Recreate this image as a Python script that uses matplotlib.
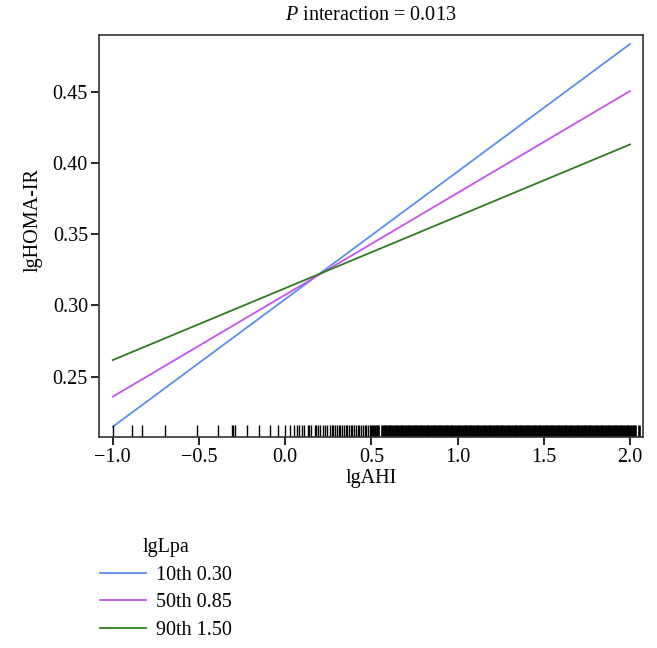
import matplotlib
matplotlib.use("Agg")
import matplotlib.pyplot as plt
import matplotlib.transforms as mtransforms

plt.rcParams['font.family'] = ['Liberation Serif', 'DejaVu Serif']
plt.rcParams['mathtext.fontset'] = 'custom'
plt.rcParams['mathtext.it'] = 'Liberation Serif:italic'
plt.rcParams['mathtext.rm'] = 'Liberation Serif'

# Data
x_ends = [-1.0, 2.0]
series_labels = ["10th 0.30", "50th 0.85", "90th 1.50"]
y_10th = [0.2149, 0.4835]
y_50th = [0.2360, 0.4505]
y_90th = [0.2617, 0.4130]
colors = ["#5a8fea", "#c653f0", "#2f7d1f"]
legend_title = "lgLpa"
title = r"$\mathit{P}$ interaction = 0.013"
xlabel = "lgAHI"
ylabel = "lgHOMA-IR"
xticks = [-1.0, -0.5, 0.0, 0.5, 1.0, 1.5, 2.0]
yticks = [0.25, 0.30, 0.35, 0.40, 0.45]

rug_sparse = [-1.0, -0.886, -0.832, -0.70, -0.513, -0.39, -0.31, -0.30, -0.29,
              -0.22, -0.15, -0.09, -0.04, 0.0, 0.03, 0.05, 0.07, 0.08, 0.10,
              0.11, 0.13, 0.14, 0.15, 0.17, 0.18, 0.19, 0.20, 0.22, 0.23, 0.24,
              0.26, 0.27, 0.28, 0.29, 0.30, 0.31, 0.32, 0.33, 0.34, 0.35, 0.36,
              0.37, 0.38, 0.39, 0.40, 0.41, 0.42, 0.43, 0.44, 0.45, 0.46, 0.47,
              0.48, 0.49]
rug_dense = [0.50, 0.51, 0.52, 0.53, 0.54, 0.56, 0.57, 0.58, 0.59,
             0.60, 0.61, 0.62, 0.63, 0.64, 0.65, 0.66, 0.67, 0.68, 0.69,
             0.70, 0.71, 0.72, 0.73, 0.74, 0.75, 0.76, 0.77, 0.78, 0.79,
             0.80, 0.81, 0.82, 0.83, 0.84, 0.85, 0.86, 0.87, 0.88, 0.89,
             0.90, 0.91, 0.92, 0.93, 0.94, 0.95, 0.96, 0.97, 0.98, 0.99,
             1.00, 1.01, 1.02, 1.03, 1.04, 1.05, 1.06, 1.07, 1.08, 1.09,
             1.10, 1.11, 1.12, 1.13, 1.14, 1.15, 1.16, 1.17, 1.18, 1.19,
             1.20, 1.21, 1.22, 1.23, 1.24, 1.25, 1.26, 1.27, 1.28, 1.29,
             1.30, 1.31, 1.32, 1.33, 1.34, 1.35, 1.36, 1.37, 1.38, 1.39,
             1.40, 1.41, 1.42, 1.43, 1.44, 1.45, 1.46, 1.47, 1.48, 1.49,
             1.50, 1.51, 1.52, 1.53, 1.54, 1.55, 1.56, 1.57, 1.58, 1.59,
             1.60, 1.61, 1.62, 1.63, 1.64, 1.65, 1.66, 1.67, 1.68, 1.69,
             1.70, 1.71, 1.72, 1.73, 1.74, 1.75, 1.76, 1.77, 1.78, 1.79,
             1.80, 1.81, 1.82, 1.83, 1.84, 1.85, 1.86, 1.87, 1.88, 1.89,
             1.90, 1.91, 1.92, 1.93, 1.94, 1.95, 1.96, 1.97, 1.98, 1.99,
             2.00, 2.01, 2.02, 2.03, 2.05]

fig = plt.figure(figsize=(6.57, 6.48), dpi=100)
ax = fig.add_axes([99/657, 1 - 437/648, (643 - 99)/657, (437 - 35)/648])

for ys, lab, c in zip([y_10th, y_50th, y_90th], series_labels, colors):
    ax.plot(x_ends, ys, color=c, lw=1.3, label=lab)

trans = mtransforms.blended_transform_factory(ax.transData, ax.transAxes)
ax.vlines(rug_sparse, 0, 0.03, transform=trans, color="black", lw=1.0)
ax.vlines(rug_dense, 0, 0.03, transform=trans, color="black", lw=1.9)

ax.set_xlim(-1.08, 2.075)
ax.set_ylim(0.2077, 0.4898)
ax.set_xticks(xticks)
ax.set_xticklabels([f"{t:.1f}".replace("-", "\u2212") for t in xticks])
ax.set_yticks(yticks)
ax.set_yticklabels([f"{t:.2f}" for t in yticks])
ax.tick_params(axis="both", direction="out", length=6, width=1.2,
               labelsize=14.5, pad=2, color="black")
for s in ax.spines.values():
    s.set_linewidth(1.2)
    s.set_color("#333333")

ax.set_xlabel(xlabel, fontsize=14.5, labelpad=1)
ax.set_ylabel(ylabel, fontsize=14.5)
ax.yaxis.set_label_coords(-0.103, 0.54)
ax.set_title(title, fontsize=14.5, pad=11)

leg = fig.legend(loc="upper left", bbox_to_anchor=(92/657, 1 - 530/648),
                 frameon=False, fontsize=14.5, title=legend_title,
                 title_fontsize=14.5, handlelength=2.3, handletextpad=0.5,
                 labelspacing=0.42, borderaxespad=0)

fig.savefig("out.png", dpi=100)
